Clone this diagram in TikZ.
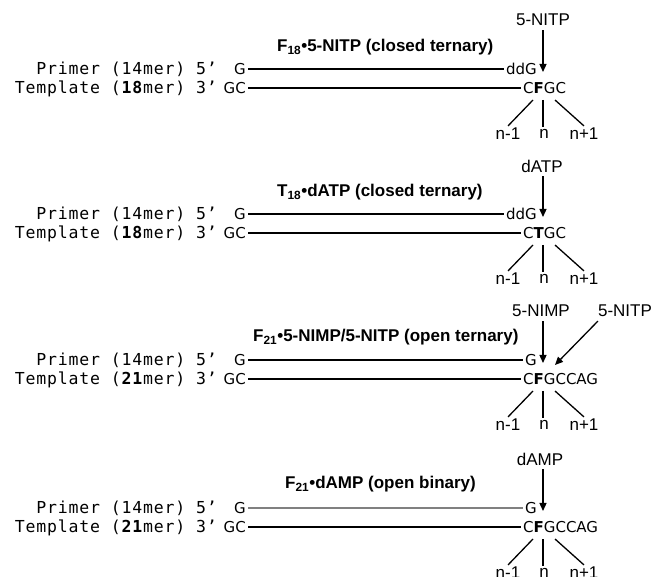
\documentclass[tikz,border=0pt]{standalone}
\usepackage{fontspec}
\setmainfont{Liberation Sans}
\newfontfamily\seqfont{DejaVu Sans}
\newfontfamily\monofont[LetterSpace=5]{DejaVu Sans Mono}
\usepackage{tikz}
\usetikzlibrary{arrows.meta, positioning}
\definecolor{primgray}{RGB}{128,128,128}
\tikzset{
  strand/.style={font=\monofont\fontsize{16.5}{19}\selectfont, inner sep=2pt,
                 text height=11pt, text depth=0pt, anchor=east},
  seqbox/.style={font=\seqfont\fontsize{15}{17}\selectfont, inner sep=2pt,
                 text height=10.7pt, text depth=0pt},
  nuclab/.style={font=\fontsize{17}{20}\selectfont, inner sep=4pt},
  title/.style={font=\bfseries\fontsize{17}{20}\selectfont, anchor=base west, inner sep=0pt},
  poslab/.style={font=\fontsize{17}{20}\selectfont, inner sep=2pt},
  bond/.style={line width=1.3pt},
  feed/.style={line width=1.3pt, -{Triangle[length=8pt,width=7pt]}},
}

\begin{document}
\begin{tikzpicture}[x=1pt, y=-1pt]
  \useasboundingbox (0,0) rectangle (654,577);

  % panel 1: F18 closed ternary
  \node[strand] (pl1) at (219,69) {Primer (14mer) 5’};
  \node[strand] (tl1) at (219,88) {Template (\textbf{18}mer) 3’};
  \node[seqbox, anchor=east] (pg1) at (248,69) {G};
  \node[seqbox, anchor=east] (tg1) at (248,88) {GC};
  \node[seqbox, anchor=east] (pe1) at (539,69) {ddG};
  \node[seqbox, anchor=west] (te1) at (521,88) {C\textbf{F}GC};
  \draw[bond] (pg1.east) -- (pe1.west);
  \draw[bond] (tg1.east) -- (te1.west);
  \node[title] (hd1) at (277,52) {F\textsubscript{18}•5-NITP (closed ternary)};
  \node[nuclab] (nu1) at (543,20) {5-NITP};
  \coordinate (tip1) at (543,72);
  \draw[feed] (nu1.south -| tip1) -- (tip1);
  \coordinate (f1) at (543,100);
  \node[poslab] (m1) at (508,134) {n-1};
  \node[poslab] (z1) at (544,134) {n};
  \node[poslab] (q1) at (584,134) {n+1};
  \draw[bond] ([xshift=-10pt]f1) -- (m1.north);
  \draw[bond] (f1) -- (f1 |- z1.north);
  \draw[bond] ([xshift=12pt]f1) -- (q1.north);

  % panel 2: T18 closed ternary
  \node[strand] (pl2) at (219,214) {Primer (14mer) 5’};
  \node[strand] (tl2) at (219,233) {Template (\textbf{18}mer) 3’};
  \node[seqbox, anchor=east] (pg2) at (248,214) {G};
  \node[seqbox, anchor=east] (tg2) at (248,233) {GC};
  \node[seqbox, anchor=east] (pe2) at (539,214) {ddG};
  \node[seqbox, anchor=west] (te2) at (521,233) {C\textbf{T}GC};
  \draw[bond] (pg2.east) -- (pe2.west);
  \draw[bond] (tg2.east) -- (te2.west);
  \node[title] (hd2) at (277,197) {T\textsubscript{18}•dATP (closed ternary)};
  \node[nuclab] (nu2) at (542,166) {dATP};
  \coordinate (tip2) at (543,217);
  \draw[feed] (nu2.south -| tip2) -- (tip2);
  \coordinate (f2) at (543,245);
  \node[poslab] (m2) at (508,279) {n-1};
  \node[poslab] (z2) at (544,279) {n};
  \node[poslab] (q2) at (584,279) {n+1};
  \draw[bond] ([xshift=-10pt]f2) -- (m2.north);
  \draw[bond] (f2) -- (f2 |- z2.north);
  \draw[bond] ([xshift=12pt]f2) -- (q2.north);

  % panel 3: F21 open ternary
  \node[strand] (pl3) at (219,360) {Primer (14mer) 5’};
  \node[strand] (tl3) at (219,379) {Template (\textbf{21}mer) 3’};
  \node[seqbox, anchor=east] (pg3) at (248,360) {G};
  \node[seqbox, anchor=east] (tg3) at (248,379) {GC};
  \node[seqbox, anchor=east] (pe3) at (539,360) {G};
  \node[seqbox, anchor=west] (te3) at (521,379) {C\textbf{F}GCCAG};
  \draw[bond] (pg3.east) -- (pe3.west);
  \draw[bond] (tg3.east) -- (te3.west);
  \node[title] (hd3) at (253,342) {F\textsubscript{21}•5-NIMP/5-NITP (open ternary)};
  \node[nuclab] (nu3) at (541,311) {5-NIMP};
  \node[nuclab] (nv3) at (625,311) {5-NITP};
  \coordinate (tip3) at (543,363);
  \coordinate (tipb3) at (555,365);
  \draw[feed] (nu3.south -| tip3) -- (tip3);
  \draw[feed] ([xshift=4pt]nv3.south west) -- (tipb3);
  \coordinate (f3) at (543,391);
  \node[poslab] (m3) at (508,425) {n-1};
  \node[poslab] (z3) at (544,425) {n};
  \node[poslab] (q3) at (584,425) {n+1};
  \draw[bond] ([xshift=-10pt]f3) -- (m3.north);
  \draw[bond] (f3) -- (f3 |- z3.north);
  \draw[bond] ([xshift=12pt]f3) -- (q3.north);

  % panel 4: F21 open binary
  \node[strand] (pl4) at (219,508) {Primer (14mer) 5’};
  \node[strand] (tl4) at (219,527) {Template (\textbf{21}mer) 3’};
  \node[seqbox, anchor=east] (pg4) at (248,508) {G};
  \node[seqbox, anchor=east] (tg4) at (248,527) {GC};
  \node[seqbox, anchor=east] (pe4) at (539,508) {G};
  \node[seqbox, anchor=west] (te4) at (521,527) {C\textbf{F}GCCAG};
  \draw[bond, primgray] (pg4.east) -- (pe4.west);
  \draw[bond] (tg4.east) -- (te4.west);
  \node[title] (hd4) at (285,489) {F\textsubscript{21}•dAMP (open binary)};
  \node[nuclab] (nu4) at (540,459) {dAMP};
  \coordinate (tip4) at (543,511);
  \draw[feed] (nu4.south -| tip4) -- (tip4);
  \coordinate (f4) at (543,539);
  \node[poslab] (m4) at (508,573) {n-1};
  \node[poslab] (z4) at (544,573) {n};
  \node[poslab] (q4) at (584,573) {n+1};
  \draw[bond] ([xshift=-10pt]f4) -- (m4.north);
  \draw[bond] (f4) -- (f4 |- z4.north);
  \draw[bond] ([xshift=12pt]f4) -- (q4.north);
\end{tikzpicture}
\end{document}
